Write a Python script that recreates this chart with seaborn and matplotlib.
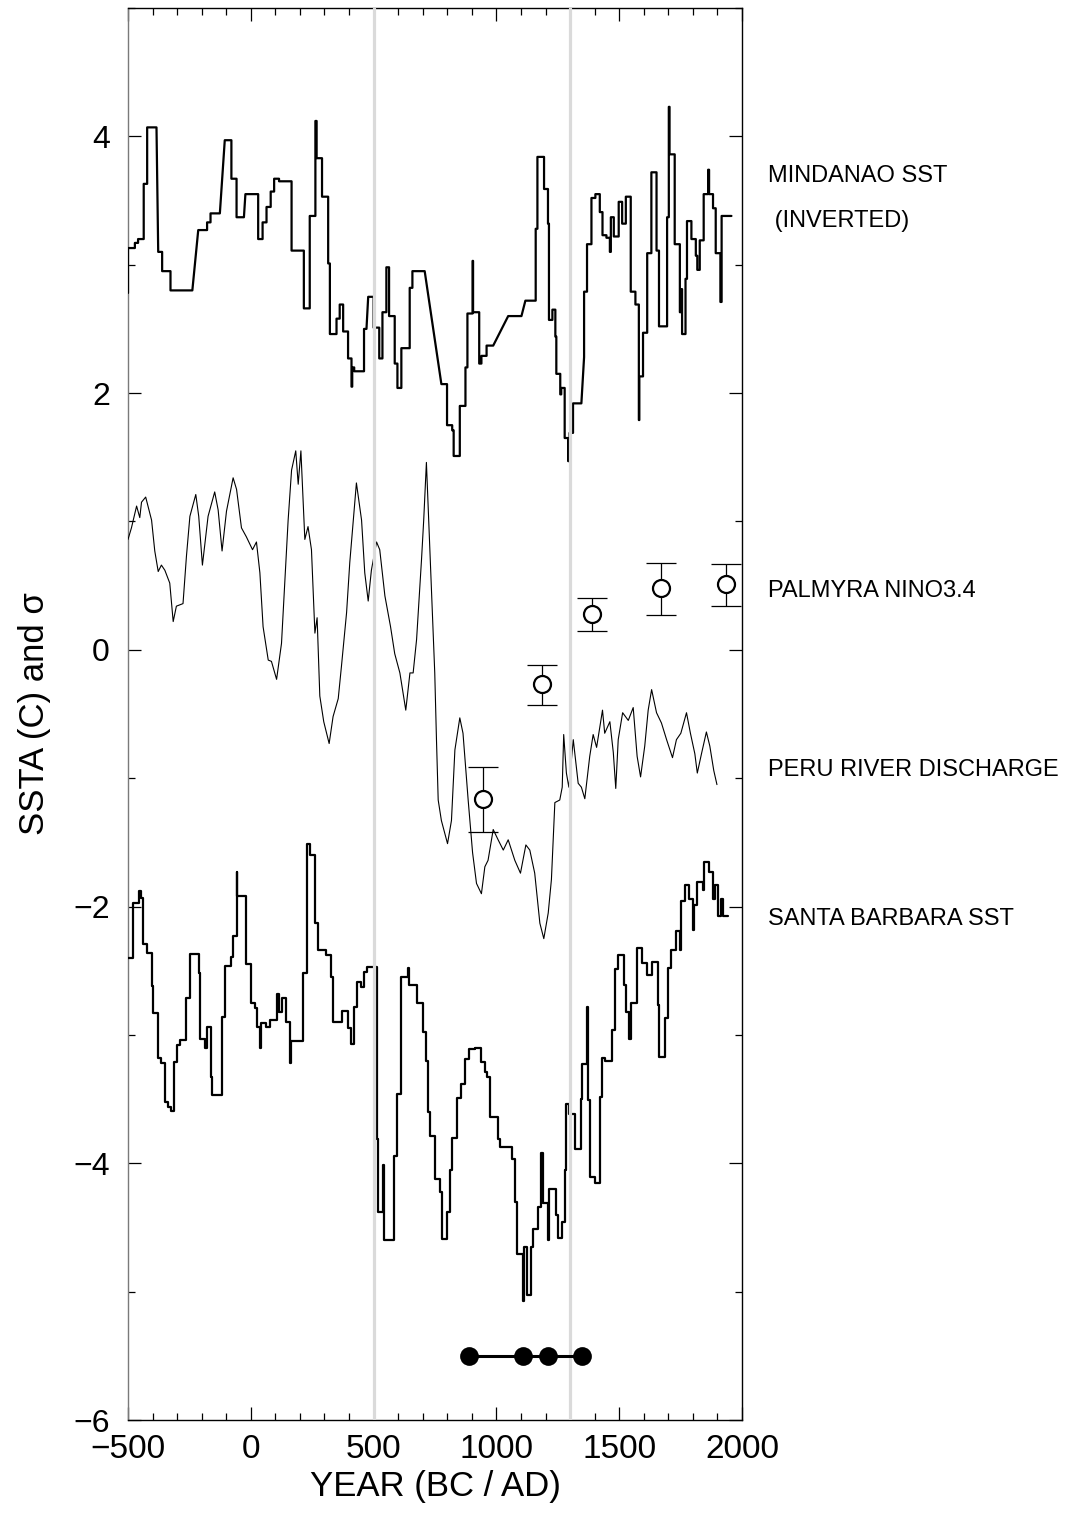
import numpy as np
import pandas as pd
import matplotlib
matplotlib.use("Agg")
import matplotlib.pyplot as plt
import seaborn as sns
from matplotlib.ticker import MultipleLocator

# ---------------- data ----------------
# Mindanao SST (inverted) - step record, (year, value) vertices
mindanao = [(-500,2.78),(-500,3.13),(-472,3.13),(-472,3.17),(-459,3.17),(-459,3.20),(-436,3.20),(-436,3.63),
    (-422,3.63),(-422,4.07),(-384,4.07),(-377,3.10),(-361,3.10),(-361,2.95),(-327,2.95),(-327,2.80),(-238,2.80),
    (-214,3.27),(-178,3.27),(-178,3.33),(-164,3.33),(-164,3.40),(-126,3.40),(-106,3.97),(-79,3.97),(-79,3.67),
    (-58,3.67),(-58,3.37),(-28,3.37),(-22,3.55),(30,3.55),(30,3.20),(48,3.20),(48,3.33),(64,3.33),(64,3.45),
    (81,3.45),(81,3.57),(95,3.57),(95,3.67),(115,3.67),(115,3.65),(166,3.65),(166,3.11),(216,3.11),(216,2.66),
    (240,2.66),(240,3.38),(263,3.38),(263,4.12),(268,4.12),(268,3.83),(290,3.83),(290,3.53),(315,3.53),(315,3.01),
    (322,3.01),(322,2.46),(349,2.46),(349,2.58),(362,2.58),(362,2.69),(376,2.69),(376,2.48),(396,2.48),(396,2.27),
    (410,2.27),(410,2.05),(413,2.05),(413,2.20),(421,2.20),(421,2.17),(461,2.17),(461,2.50),(471,2.50),(478,2.75),
    (500,2.75),(500,2.51),(523,2.51),(523,2.27),(536,2.27),(536,2.63),(552,2.63),(552,2.98),(563,2.98),(563,2.60),
    (586,2.60),(586,2.23),(597,2.23),(597,2.04),(613,2.04),(613,2.35),(647,2.35),(647,2.82),(658,2.82),(658,2.95),
    (708,2.95),(776,2.07),(799,2.07),(799,1.75),(820,1.75),(820,1.71),(826,1.71),(826,1.51),(851,1.51),(851,1.90),
    (874,1.90),(874,2.20),(882,2.20),(882,2.62),(903,2.62),(903,3.03),(905,3.03),(905,2.63),(930,2.63),(930,2.23),
    (939,2.23),(939,2.29),(960,2.29),(960,2.37),(987,2.37),(1048,2.60),(1102,2.60),(1118,2.72),(1160,2.72),
    (1160,3.28),(1167,3.28),(1167,3.84),(1194,3.84),(1194,3.59),(1210,3.59),(1210,3.32),(1214,3.32),(1214,2.57),
    (1228,2.57),(1228,2.65),(1240,2.65),(1240,2.44),(1244,2.44),(1244,2.15),(1260,2.15),(1260,1.99),(1264,1.99),
    (1264,2.04),(1278,2.04),(1278,1.65),(1292,1.65),(1292,1.47),(1298,1.47),(1298,1.69),(1312,1.69),(1312,1.92),
    (1346,1.92),(1357,2.28),(1357,2.79),(1369,2.79),(1369,3.16),(1387,3.16),(1387,3.52),(1403,3.52),(1403,3.55),
    (1421,3.55),(1421,3.41),(1432,3.41),(1432,3.23),(1448,3.23),(1448,3.21),(1462,3.21),(1462,3.10),(1466,3.10),
    (1466,3.37),(1478,3.37),(1478,3.22),(1498,3.22),(1498,3.49),(1512,3.49),(1512,3.32),(1527,3.32),(1527,3.53),
    (1547,3.53),(1547,2.79),(1566,2.79),(1566,2.69),(1580,2.69),(1580,1.79),(1582,1.79),(1582,2.13),(1597,2.13),
    (1597,2.47),(1614,2.47),(1614,3.09),(1631,3.09),(1631,3.72),(1652,3.72),(1652,3.11),(1662,3.11),(1662,2.52),
    (1695,2.52),(1695,3.37),(1702,3.37),(1702,4.23),(1705,4.23),(1705,3.86),(1726,3.86),(1726,3.16),(1747,3.16),
    (1747,2.63),(1750,2.63),(1750,2.81),(1756,2.81),(1756,2.46),(1770,2.46),(1770,2.89),(1776,2.89),(1776,3.34),
    (1794,3.34),(1794,3.20),(1812,3.20),(1812,3.07),(1818,3.07),(1818,2.96),(1828,2.96),(1828,3.19),(1844,3.19),
    (1844,3.55),(1862,3.55),(1862,3.74),(1866,3.74),(1866,3.55),(1882,3.55),(1882,3.44),(1893,3.44),(1893,3.09),
    (1912,3.09),(1912,2.71),(1917,2.71),(1917,3.38),(1957,3.38)]

# Peru river discharge - thin continuous record
peru_year = [-500,-486,-465,-452,-445,-428,-404,-391,-377,-364,-350,-330,-316,-303,-276,-262,-248,-224,-212,-197,
    -174,-147,-133,-117,-99,-72,-58,-38,-18,7,23,37,50,71,84,105,125,138,152,166,183,193,204,220,233,247,261,270,
    281,297,319,335,356,369,390,403,430,451,464,478,491,512,525,546,569,586,607,631,648,661,675,695,704,715,736,
    749,756,763,776,801,817,831,851,864,885,903,919,939,953,966,987,1007,1028,1048,1075,1098,1120,1136,1156,1177,
    1193,1211,1224,1238,1258,1268,1274,1285,1295,1313,1333,1346,1360,1380,1394,1408,1432,1441,1462,1476,1486,1496,
    1514,1537,1557,1573,1587,1604,1618,1632,1652,1672,1693,1717,1733,1751,1774,1790,1808,1818,1835,1855,1869,1885,
    1898]
peru_value = [0.86,0.95,1.12,1.03,1.15,1.19,1.01,0.77,0.61,0.66,0.62,0.52,0.22,0.34,0.36,0.73,1.04,1.21,1.04,0.66,
    1.04,1.23,1.09,0.77,1.08,1.34,1.25,0.95,0.88,0.78,0.84,0.60,0.18,-0.08,-0.09,-0.23,0.05,0.52,1.01,1.40,1.55,1.29,
    1.55,0.86,0.96,0.78,0.13,0.25,-0.36,-0.56,-0.73,-0.52,-0.38,-0.13,0.29,0.68,1.30,1.01,0.60,0.38,0.62,0.84,0.78,
    0.42,0.18,-0.03,-0.18,-0.47,-0.18,-0.18,0.08,0.70,1.01,1.46,0.44,-0.18,-0.70,-1.17,-1.33,-1.51,-1.33,-0.78,
    -0.53,-0.65,-1.17,-1.58,-1.82,-1.90,-1.69,-1.64,-1.40,-1.48,-1.56,-1.48,-1.64,-1.74,-1.52,-1.56,-1.74,-2.13,
    -2.25,-2.05,-1.79,-1.19,-1.17,-1.07,-0.66,-0.96,-1.07,-0.70,-1.04,-1.07,-1.16,-0.83,-0.66,-0.76,-0.47,-0.65,
    -0.56,-0.80,-1.08,-0.70,-0.49,-0.55,-0.45,-0.83,-0.99,-0.75,-0.47,-0.31,-0.49,-0.57,-0.70,-0.84,-0.70,-0.65,
    -0.49,-0.65,-0.81,-0.96,-0.81,-0.64,-0.75,-0.94,-1.05]

# Palmyra NINO3.4 - means with ranges
palmyra_year = [946, 1186, 1391, 1672, 1934]
palmyra_mean = [-1.16, -0.27, 0.28, 0.48, 0.51]
palmyra_low = [-1.42, -0.43, 0.15, 0.27, 0.34]
palmyra_high = [-0.91, -0.12, 0.40, 0.68, 0.67]

# Santa Barbara SST - step record
santa_barbara = [(-500,-2.40),(-480,-2.40),(-480,-1.97),(-455,-1.97),(-455,-1.88),(-448,-1.88),(-448,-1.93),
    (-438,-1.93),(-438,-2.29),(-422,-2.29),(-422,-2.36),(-404,-2.36),(-404,-2.62),(-397,-2.62),(-397,-2.83),
    (-377,-2.83),(-377,-3.18),(-364,-3.18),(-364,-3.22),(-350,-3.22),(-350,-3.52),(-339,-3.52),(-339,-3.56),
    (-323,-3.56),(-323,-3.59),(-312,-3.59),(-312,-3.21),(-300,-3.21),(-300,-3.08),(-289,-3.08),(-289,-3.04),
    (-262,-3.04),(-262,-2.71),(-248,-2.71),(-248,-2.37),(-212,-2.37),(-212,-2.52),(-205,-2.52),(-205,-3.03),
    (-187,-3.03),(-187,-3.10),(-180,-3.10),(-180,-2.94),(-164,-2.94),(-164,-3.33),(-156,-3.33),(-156,-3.47),
    (-119,-3.47),(-119,-2.86),(-106,-2.86),(-106,-2.46),(-81,-2.46),(-81,-2.39),(-72,-2.39),(-72,-2.23),(-58,-2.23),
    (-58,-1.73),(-55,-1.73),(-55,-1.92),(-20,-1.92),(-20,-2.45),(2,-2.45),(2,-2.75),(16,-2.75),(16,-2.79),(26,-2.79),
    (26,-2.94),(36,-2.94),(36,-3.10),(43,-3.10),(43,-2.91),(61,-2.91),(61,-2.94),(77,-2.94),(77,-2.88),(105,-2.88),
    (105,-2.68),(115,-2.68),(115,-2.82),(125,-2.82),(125,-2.71),(145,-2.71),(145,-2.90),(161,-2.90),(161,-3.22),
    (165,-3.22),(165,-3.05),(213,-3.05),(213,-2.52),(229,-2.52),(229,-1.51),(240,-1.51),(240,-1.60),(263,-1.60),
    (263,-2.13),(274,-2.13),(274,-2.34),(308,-2.34),(308,-2.38),(328,-2.38),(328,-2.55),(335,-2.55),(335,-2.90),
    (373,-2.90),(373,-2.81),(394,-2.81),(394,-2.95),(407,-2.95),(407,-3.07),(421,-3.07),(421,-2.78),(433,-2.78),
    (433,-2.59),(447,-2.59),(447,-2.63),(462,-2.63),(462,-2.51),(474,-2.51),(474,-2.47),(512,-2.47),(512,-3.81),
    (518,-3.81),(518,-4.38),(539,-4.38),(539,-4.01),(543,-4.01),(543,-4.60),(582,-4.60),(582,-3.94),(596,-3.94),
    (596,-3.46),(612,-3.46),(612,-2.55),(640,-2.55),(640,-2.48),(645,-2.48),(645,-2.61),(678,-2.61),(678,-2.75),
    (700,-2.75),(700,-2.98),(712,-2.98),(712,-3.20),(722,-3.20),(722,-3.60),(731,-3.60),(731,-3.79),(749,-3.79),
    (749,-4.12),(772,-4.12),(772,-4.22),(780,-4.22),(780,-4.59),(797,-4.59),(797,-4.38),(813,-4.38),(813,-4.05),
    (821,-4.05),(821,-3.80),(840,-3.80),(840,-3.49),(855,-3.49),(855,-3.38),(871,-3.38),(871,-3.19),(888,-3.19),
    (888,-3.11),(911,-3.11),(911,-3.10),(939,-3.10),(939,-3.21),(953,-3.21),(953,-3.29),(960,-3.29),(960,-3.33),
    (973,-3.33),(973,-3.64),(1007,-3.64),(1007,-3.81),(1014,-3.81),(1014,-3.87),(1065,-3.87),(1065,-3.97),
    (1075,-3.97),(1075,-4.30),(1082,-4.30),(1082,-4.71),(1109,-4.71),(1109,-5.07),(1111,-5.07),(1111,-4.65),
    (1126,-4.65),(1126,-5.03),(1140,-5.03),(1140,-4.65),(1149,-4.65),(1149,-4.51),(1170,-4.51),(1170,-4.34),
    (1181,-4.34),(1181,-3.92),(1190,-3.92),(1190,-4.31),(1211,-4.31),(1211,-4.60),(1214,-4.60),(1214,-4.20),
    (1242,-4.20),(1242,-4.40),(1251,-4.40),(1251,-4.58),(1268,-4.58),(1268,-4.46),(1278,-4.46),(1278,-4.05),
    (1285,-4.05),(1285,-3.54),(1295,-3.54),(1295,-3.62),(1319,-3.62),(1319,-3.89),(1346,-3.89),(1346,-3.50),
    (1350,-3.50),(1350,-3.23),(1367,-3.23),(1367,-2.78),(1374,-2.78),(1374,-3.51),(1383,-3.51),(1383,-4.11),
    (1401,-4.11),(1401,-4.15),(1421,-4.15),(1421,-3.48),(1428,-3.48),(1428,-3.18),(1441,-3.18),(1441,-3.20),
    (1472,-3.20),(1472,-2.96),(1482,-2.96),(1482,-2.49),(1496,-2.49),(1496,-2.38),(1519,-2.38),(1519,-2.61),
    (1527,-2.61),(1527,-2.82),(1539,-2.82),(1539,-3.03),(1550,-3.03),(1550,-2.75),(1573,-2.75),(1573,-2.32),
    (1593,-2.32),(1593,-2.44),(1614,-2.44),(1614,-2.53),(1634,-2.53),(1634,-2.43),(1656,-2.43),(1656,-2.77),
    (1661,-2.77),(1661,-3.17),(1685,-3.17),(1685,-2.87),(1699,-2.87),(1699,-2.48),(1712,-2.48),(1712,-2.34),
    (1733,-2.34),(1733,-2.19),(1747,-2.19),(1747,-2.34),(1753,-2.34),(1753,-1.96),(1767,-1.96),(1767,-1.83),
    (1784,-1.83),(1784,-1.94),(1801,-1.94),(1801,-2.18),(1803,-2.18),(1803,-1.99),(1818,-1.99),(1818,-1.81),
    (1841,-1.81),(1841,-1.87),(1845,-1.87),(1845,-1.65),(1864,-1.65),(1864,-1.73),(1882,-1.73),(1882,-1.94),
    (1891,-1.94),(1891,-1.83),(1902,-1.83),(1902,-2.07),(1913,-2.07),(1913,-1.94),(1923,-1.94),(1923,-2.07),
    (1943,-2.07)]

# Event dates along the bottom
event_year = [890, 1110, 1210, 1350]
event_level = [-5.5, -5.5, -5.5, -5.5]

# Reference period boundaries (grey verticals)
period_bounds = [500, 1300]

# Series labels at the right
series_labels = ["MINDANAO SST", " (INVERTED)", "PALMYRA NINO3.4", "PERU RIVER DISCHARGE", "SANTA BARBARA SST"]
label_y = [3.69, 3.34, 0.46, -0.94, -2.10]

# ---------------- styling ----------------
sns.set_theme(style="ticks")
plt.rcParams["font.family"] = ["Liberation Sans", "DejaVu Sans"]
plt.rcParams["text.color"] = "black"
plt.rcParams["axes.labelcolor"] = "black"
plt.rcParams["xtick.color"] = "black"
plt.rcParams["ytick.color"] = "black"

fig = plt.figure(figsize=(10.86, 15.13), dpi=100)
ax = fig.add_axes([128 / 1086, 1 - 1420 / 1513, 614 / 1086, 1412 / 1513])


def draw_line(df, lw, z=3):
    sns.lineplot(data=df, x="year", y="value", estimator=None, sort=False,
                 color="black", lw=lw, ax=ax, zorder=z)


draw_line(pd.DataFrame(mindanao, columns=["year", "value"]), 1.6)
draw_line(pd.DataFrame(santa_barbara, columns=["year", "value"]), 1.6)
draw_line(pd.DataFrame({"year": peru_year, "value": peru_value}), 0.8)

# Palmyra means with ranges
pal = pd.DataFrame({"year": palmyra_year, "value": palmyra_mean,
                    "low": palmyra_low, "high": palmyra_high})
ax.errorbar(pal["year"], pal["value"],
            yerr=[pal["value"] - pal["low"], pal["high"] - pal["value"]],
            fmt="none", ecolor="black", elinewidth=0.9, capsize=11, capthick=0.9, zorder=4)
sns.scatterplot(data=pal, x="year", y="value", marker="o", s=150, facecolor="white",
                edgecolor="black", linewidth=1.6, ax=ax, zorder=6)

# Event dots
ev = pd.DataFrame({"year": event_year, "value": event_level})
sns.lineplot(data=ev, x="year", y="value", estimator=None, sort=False, color="black",
             lw=2.2, marker="o", markersize=13.5, markeredgewidth=0, ax=ax, zorder=6)

for b in period_bounds:
    ax.axvline(b, color="#dadada", lw=2.3, zorder=5)

for txt, yv in zip(series_labels, label_y):
    ax.text(2105, yv, txt, fontsize=17, ha="left", va="center", color="black", clip_on=False)

ax.set_xlim(-500, 2000)
ax.set_ylim(-6, 5)
ax.xaxis.set_major_locator(MultipleLocator(500))
ax.xaxis.set_minor_locator(MultipleLocator(100))
ax.yaxis.set_major_locator(MultipleLocator(2))
ax.yaxis.set_minor_locator(MultipleLocator(1))
ax.tick_params(which="both", direction="in", top=True, right=True, width=0.9, colors="black")
ax.tick_params(which="major", length=9.5)
ax.tick_params(which="minor", length=5)
ax.tick_params(axis="x", which="major", labelsize=24, pad=10)
ax.tick_params(axis="y", which="major", labelsize=23, pad=13)

ax.set_xlabel("YEAR (BC / AD)", fontsize=25, labelpad=4)
ax.set_ylabel("SSTA (C) and σ", fontsize=25, labelpad=16)

for side, sp in ax.spines.items():
    sp.set_linewidth(1.0)
    sp.set_color("black")
ax.spines["left"].set_color("#7a7a7a")
ax.grid(False)

fig.savefig("out.png", dpi=100)
